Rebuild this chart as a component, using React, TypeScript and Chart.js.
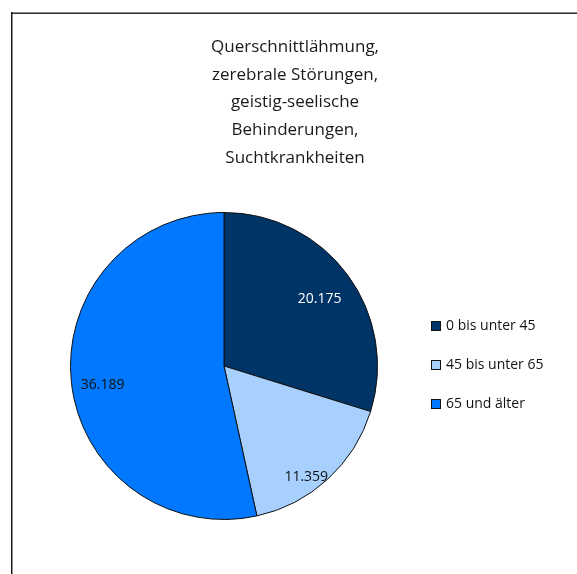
import React, { useEffect, useRef } from "react";
import { Chart, registerables } from "chart.js";

Chart.register(...registerables);

const categories = ["0 bis unter 45", "45 bis unter 65", "65 und älter"];
const values = [20175, 11359, 36189];
const valueLabels = ["20.175", "11.359", "36.189"];
const titleLines = [
  "Querschnittlähmung,",
  "zerebrale Störungen,",
  "geistig-seelische",
  "Behinderungen,",
  "Suchtkrankheiten",
];

const colors = ["#003366", "#A8D0FF", "#0078FF"];
const labelColors = ["#FFFFFF", "#111111", "#111111"];
const labelRadius = [0.76, 0.9, 0.8];
const labelAngleOffset = [0.026, 0.105, -0.047];
const FONT = "'Open Sans', 'DejaVu Sans', sans-serif";

const framePlugin = {
  id: "frame",
  beforeDraw(chart: any) {
    const ctx = chart.ctx;
    ctx.save();
    ctx.fillStyle = "#ffffff";
    ctx.fillRect(0, 0, chart.width, chart.height);
    ctx.fillStyle = "#8a8a8a";
    ctx.fillRect(11, 12, chart.width - 11, 1);
    ctx.fillStyle = "#333333";
    ctx.fillRect(11, 13, chart.width - 11, 1);
    ctx.fillStyle = "#1a1a1a";
    ctx.fillRect(11, 12, 1.5, chart.height - 12);
    ctx.restore();
  },
};

const overlayPlugin = {
  id: "overlay",
  afterDraw(chart: any) {
    const ctx = chart.ctx;
    ctx.save();
    // title
    ctx.font = `17px ${FONT}`;
    ctx.fillStyle = "#1a1a1a";
    ctx.textAlign = "center";
    ctx.textBaseline = "middle";
    titleLines.forEach((line, i) => {
      ctx.fillText(line, 295, 47 + i * 27.8);
    });
    // data labels
    const meta = chart.getDatasetMeta(0);
    ctx.font = `14px ${FONT}`;
    meta.data.forEach((arc: any, i: number) => {
      const mid = (arc.startAngle + arc.endAngle) / 2 + labelAngleOffset[i];
      const r = arc.outerRadius * labelRadius[i];
      const x = arc.x + Math.cos(mid) * r;
      const y = arc.y + Math.sin(mid) * r;
      ctx.fillStyle = labelColors[i];
      ctx.fillText(valueLabels[i], x, y);
    });
    // legend
    ctx.textAlign = "left";
    ctx.font = `14px ${FONT}`;
    categories.forEach((c, i) => {
      const y = 326 + i * 39;
      ctx.fillStyle = colors[i];
      ctx.fillRect(431, y - 5, 10, 10);
      ctx.strokeStyle = "#111111";
      ctx.lineWidth = 1;
      ctx.strokeRect(431.5, y - 4.5, 9, 9);
      ctx.fillStyle = "#111111";
      ctx.fillText(c, 446, y);
    });
    ctx.restore();
  },
};

export default function App() {
  const ref = useRef<HTMLCanvasElement | null>(null);
  useEffect(() => {
    if (!ref.current) return;
    const chart = new Chart(ref.current, {
      type: "pie",
      data: {
        labels: categories,
        datasets: [
          {
            data: values,
            backgroundColor: colors,
            borderColor: "#111111",
            borderWidth: 1,
          },
        ],
      },
      options: {
        animation: false,
        responsive: false,
        layout: { padding: { left: 70, right: 199, top: 212, bottom: 54 } },
        plugins: {
          legend: { display: false },
          title: { display: false },
          tooltip: { enabled: false },
        },
      },
      plugins: [framePlugin, overlayPlugin],
    });
    return () => chart.destroy();
  }, []);
  return (
    <div style={{ position: "fixed", left: 0, top: 0, width: 577, height: 574, background: "#fff" }}>
      <canvas ref={ref} width={577} height={574} style={{ display: "block", width: 577, height: 574 }} />
    </div>
  );
}
